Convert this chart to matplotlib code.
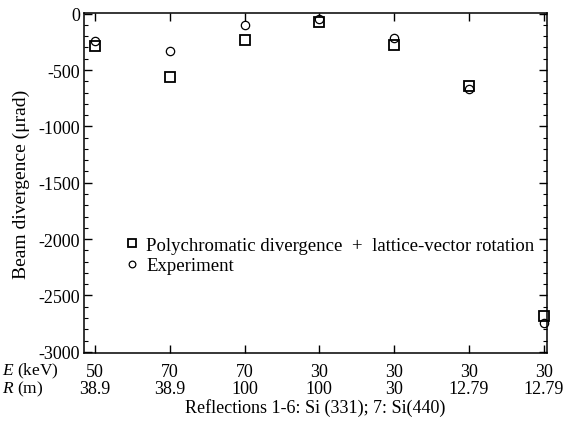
import matplotlib
matplotlib.use("Agg")
import matplotlib.pyplot as plt
from matplotlib.ticker import MultipleLocator

plt.rcParams['font.family'] = ['Liberation Serif', 'DejaVu Serif']
plt.rcParams['mathtext.fontset'] = 'custom'
plt.rcParams['mathtext.rm'] = 'Liberation Serif'
plt.rcParams['mathtext.it'] = 'Liberation Serif:italic'
plt.rcParams['axes.unicode_minus'] = False

reflections = [1, 2, 3, 4, 5, 6, 7]
energy_kev = ["50", "70", "70", "30", "30", "30", "30"]
radius_m = ["38.9", "38.9", "100", "100", "30", "12.79", "12.79"]
polychromatic = [-290, -565, -235, -70, -280, -645, -2680]
experiment = [-240, -335, -105, -50, -220, -670, -2740]

fig = plt.figure(figsize=(5.65, 4.27), dpi=100)
ax = fig.add_axes([0.1487, 0.171, 0.820, 0.796])

ax.plot(reflections, polychromatic, linestyle='none', marker='s', markersize=6.5,
        markerfacecolor='white', markeredgecolor='black', markeredgewidth=1.3,
        clip_on=False,
        label='Polychromatic divergence  +  lattice-vector rotation')
ax.plot(reflections, experiment, linestyle='none', marker='o', markersize=6,
        markerfacecolor='none', markeredgecolor='black', markeredgewidth=0.9,
        clip_on=False, label='Experiment')

ax.set_xlim(0.853, 7.05)
ax.set_ylim(-3010, 5)
ax.set_xticks(reflections)
ax.set_xticklabels([f"{e}\n{r}" for e, r in zip(energy_kev, radius_m)],
                   fontsize=13, linespacing=1.0)
ax.yaxis.set_major_locator(MultipleLocator(500))
ax.yaxis.set_minor_locator(MultipleLocator(100))
ax.tick_params(axis='both', which='major', direction='in', length=6, width=1,
               top=True, right=True, pad=3)
ax.tick_params(axis='y', labelsize=13)
ax.tick_params(axis='x', pad=7)
ax.tick_params(axis='y', which='minor', direction='in', length=3, width=0.8,
               right=True, left=True)
ax.tick_params(axis='x', which='minor', bottom=False, top=False)
for s in ax.spines.values():
    s.set_linewidth(1.1)

ax.set_ylabel('Beam divergence (μrad)', fontsize=14, labelpad=6)
ax.set_xlabel('Reflections 1-6: Si (331); 7: Si(440)', fontsize=13, labelpad=1)

fig.text(0.004, 1 - 380.5 / 427, r'$E$ (keV)' + '\n' + r'$R$ (m)',
         fontsize=12.5, va='center', ha='left', linespacing=0.9)

ax.legend(loc='upper left', bbox_to_anchor=(0.07, 0.365), frameon=False,
          fontsize=13.5, handletextpad=0.3, handlelength=0.9, borderaxespad=0,
          labelspacing=0.2, markerscale=0.8)

fig.savefig('out.png', dpi=100)
